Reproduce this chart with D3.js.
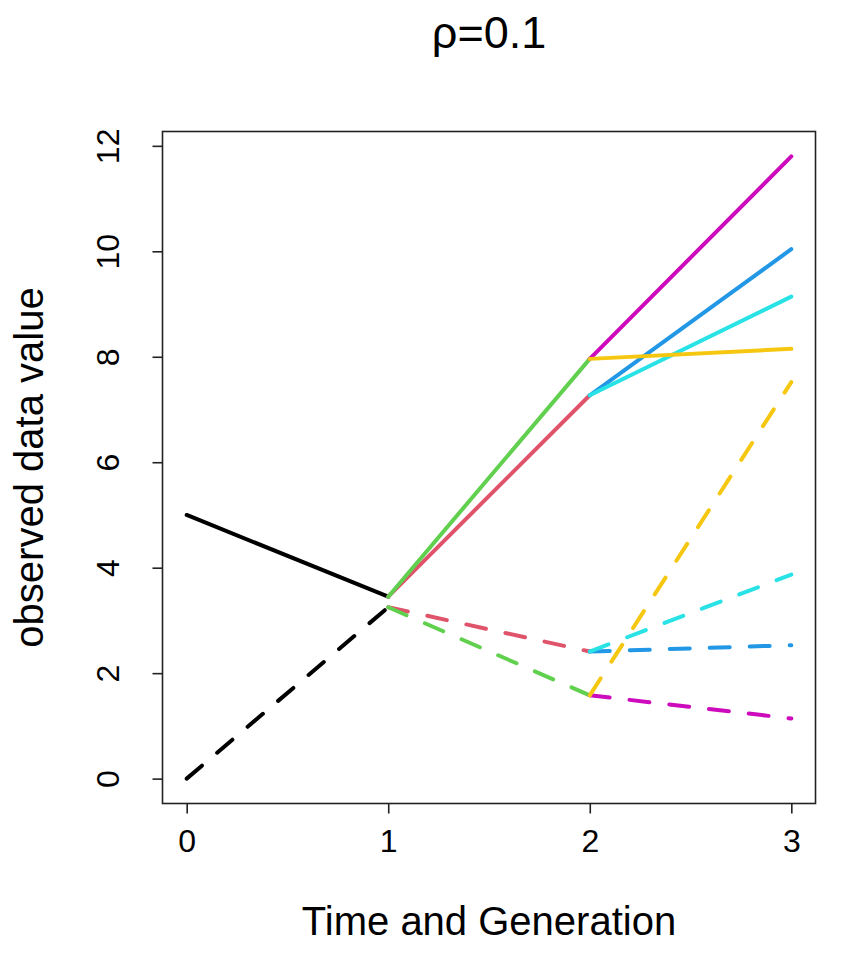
<!DOCTYPE html>
<html>
<head>
<meta charset="utf-8">
<script src="https://cdn.jsdelivr.net/npm/d3@7"></script>
<style>
  body { margin: 0; background: #fff; }
  svg { display: block; font-family: "Liberation Sans", Arial, sans-serif; }
</style>
</head>
<body>
<div id="chart"></div>
<script>
// Segmente: Startzeit, Startwert, Endwert (Ende = Start + 1)
const segStart = [0, 0, 1, 1, 1, 1, 2, 2, 2, 2, 2, 2, 2, 2];
const segFrom  = [5.00, 0.00, 3.45, 3.45, 3.25, 3.25, 7.27, 7.27, 7.96, 7.96, 2.41, 2.41, 1.58, 1.58];
const segTo    = [3.45, 3.25, 7.27, 7.96, 2.41, 1.58, 10.04, 9.14, 11.80, 8.15, 2.53, 3.87, 1.14, 7.52];
const segColor = ["#000000", "#000000", "#DF536B", "#61D04F", "#DF536B", "#61D04F",
                  "#2297E6", "#28E2E5", "#CD0BBC", "#F5C710",
                  "#2297E6", "#28E2E5", "#CD0BBC", "#F5C710"];
const segDashed = [false, true, false, false, true, true,
                   false, false, false, false, true, true, true, true];

const xTicks = [0, 1, 2, 3];
const yTicks = [0, 2, 4, 6, 8, 10, 12];

const titleText = "ρ=0.1";
const xLabel = "Time and Generation";
const yLabel = "observed data value";

const width = 864, height = 959;
const plot = { left: 162.5, right: 815.5, top: 131.5, bottom: 803.5 };

const segments = segStart.map((s, i) => ({
    x0: s, x1: s + 1, y0: segFrom[i], y1: segTo[i],
    color: segColor[i], dashed: segDashed[i]
}));

// R-Stil: 4% Erweiterung der Datenbereiche
const xExt = [0, 3];
const yExt = [0, d3.max(segments, d => Math.max(d.y0, d.y1))];
const xPad = (xExt[1] - xExt[0]) * 0.04;
const yPad = (yExt[1] - yExt[0]) * 0.04;

const x = d3.scaleLinear()
    .domain([xExt[0] - xPad, xExt[1] + xPad])
    .range([plot.left, plot.right]);

const y = d3.scaleLinear()
    .domain([yExt[0] - yPad, yExt[1] + yPad])
    .range([plot.bottom, plot.top]);

const svg = d3.select("#chart")
    .append("svg")
    .attr("width", width)
    .attr("height", height);

// Linien
svg.append("g")
    .selectAll("line")
    .data(segments)
    .enter()
    .append("line")
    .attr("x1", d => x(d.x0))
    .attr("y1", d => y(d.y0))
    .attr("x2", d => x(d.x1))
    .attr("y2", d => y(d.y1))
    .attr("stroke", d => d.color)
    .attr("stroke-width", 4)
    .attr("stroke-linecap", "round")
    .attr("stroke-dasharray", d => d.dashed ? "20,20" : null);

// Rahmen
svg.append("rect")
    .attr("x", plot.left)
    .attr("y", plot.top)
    .attr("width", plot.right - plot.left)
    .attr("height", plot.bottom - plot.top)
    .attr("fill", "none")
    .attr("stroke", "#222")
    .attr("stroke-width", 1.6);

// Achsen
const xAxis = g => g
    .attr("transform", `translate(0,${plot.bottom})`)
    .call(d3.axisBottom(x).tickValues(xTicks).tickSize(10).tickPadding(16).tickFormat(d3.format("d")))
    .call(g => g.select(".domain").remove())
    .call(g => g.selectAll(".tick line").attr("stroke", "#222").attr("stroke-width", 1.6))
    .call(g => g.selectAll("text").attr("fill", "#000").style("font-size", "32px")
        .style("font-family", "'Liberation Sans', Arial, sans-serif"));

const yAxis = g => g
    .attr("transform", `translate(${plot.left},0)`)
    .call(d3.axisLeft(y).tickValues(yTicks).tickSize(10).tickFormat(d3.format("d")))
    .call(g => g.select(".domain").remove())
    .call(g => g.selectAll(".tick line").attr("stroke", "#222").attr("stroke-width", 1.6))
    .call(g => g.selectAll("text")
        .attr("fill", "#000")
        .attr("x", null).attr("dy", null)
        .attr("text-anchor", "middle")
        .attr("transform", "translate(-44,0) rotate(-90)")
        .style("font-size", "32px")
        .style("font-family", "'Liberation Sans', Arial, sans-serif"));

svg.append("g").call(xAxis);
svg.append("g").call(yAxis);

// Titel und Beschriftungen
const cx = (plot.left + plot.right) / 2;
const cy = (plot.top + plot.bottom) / 2;

svg.append("text")
    .attr("x", cx)
    .attr("y", 48)
    .attr("text-anchor", "middle")
    .style("font-size", "45px")
    .text(titleText);

svg.append("text")
    .attr("x", cx)
    .attr("y", 935)
    .attr("text-anchor", "middle")
    .style("font-size", "40px")
    .text(xLabel);

svg.append("text")
    .attr("transform", `translate(43,${cy}) rotate(-90)`)
    .attr("text-anchor", "middle")
    .style("font-size", "40px")
    .text(yLabel);
</script>
</body>
</html>
